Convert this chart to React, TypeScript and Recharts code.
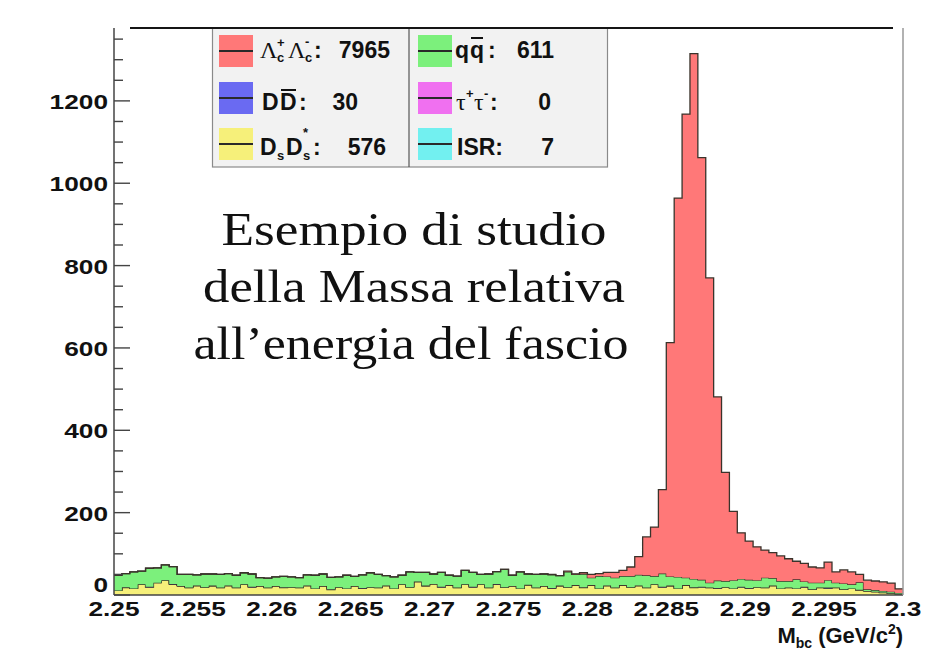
import { ComposedChart, Area, XAxis, YAxis } from "recharts";

// histogram binning: 100 bins of 0.5 MeV between 2.25 and 2.3 GeV/c^2
const BIN_LO = 2.25;
const BIN_W = 0.0005;
const N_BINS = 100;

const xTicks = [2.25, 2.255, 2.26, 2.265, 2.27, 2.275, 2.28, 2.285, 2.29, 2.295, 2.3];
const xTickLabels = ["2.25", "2.255", "2.26", "2.265", "2.27", "2.275", "2.28", "2.285", "2.29", "2.295", "2.3"];
const yTicks = [0, 50, 100, 150, 200, 250, 300, 350, 400, 450, 500, 550, 600, 650, 700, 750, 800, 850, 900, 950, 1000, 1050, 1100, 1150, 1200, 1250, 1300, 1350];

// D_s D_s* (yellow, bottom of the stack)
const dsds = [
  11, 18, 16, 26, 19, 30, 36, 26, 22, 18, 22, 19, 22, 18, 22, 18, 26, 19, 22, 18, 22, 18, 19, 18, 22,
  16, 22, 13, 19, 16, 22, 16, 19, 18, 22, 16, 26, 19, 32, 22, 27, 19, 24, 18, 26, 19, 26, 18, 26, 19,
  22, 16, 24, 18, 22, 16, 22, 19, 24, 18, 24, 16, 22, 18, 24, 19, 22, 18, 26, 19, 22, 16, 24, 18, 19,
  18, 16, 19, 16, 19, 16, 19, 18, 22, 16, 18, 16, 19, 14, 18, 16, 18, 14, 16, 12, 10, 8, 6, 4, 2,
];

// D Dbar (blue), ISR (cyan): only a handful of entries
const ddbar = [
  0, 1, 0, 0, 1, 0, 0, 1, 0, 0, 1, 0, 0, 0, 1, 0, 0, 1, 0, 0, 0, 1, 0, 0, 1,
  0, 0, 1, 0, 0, 0, 1, 0, 0, 1, 0, 0, 0, 1, 0, 0, 1, 0, 0, 0, 1, 0, 0, 1, 0,
  0, 0, 1, 0, 0, 1, 0, 0, 0, 1, 0, 0, 1, 0, 0, 0, 1, 0, 0, 1, 0, 0, 0, 1, 0,
  0, 1, 0, 0, 0, 1, 0, 0, 1, 0, 0, 0, 1, 0, 0, 1, 0, 0, 0, 1, 0, 0, 0, 0, 0,
];
const isr = [
  0, 0, 0, 0, 0, 0, 0, 0, 0, 0, 0, 0, 1, 0, 0, 0, 0, 0, 0, 0, 0, 0, 0, 0, 0,
  0, 0, 0, 0, 0, 0, 0, 0, 0, 0, 0, 0, 0, 0, 1, 0, 0, 0, 0, 0, 0, 0, 0, 0, 0,
  0, 0, 0, 0, 0, 0, 1, 0, 0, 0, 0, 0, 0, 0, 0, 0, 0, 0, 0, 0, 1, 0, 0, 0, 1,
  0, 0, 0, 0, 1, 0, 0, 0, 0, 0, 0, 0, 0, 0, 0, 1, 0, 0, 0, 0, 0, 0, 0, 0, 0,
];

// q qbar continuum (green)
const qqbar = [
  37, 33, 40, 32, 45, 36, 37, 42, 28, 32, 26, 32, 28, 32, 29, 30, 28, 31, 20, 23, 22, 26, 25, 24, 26,
  32, 29, 29, 25, 32, 23, 32, 35, 32, 24, 28, 22, 37, 22, 32, 24, 35, 24, 28, 34, 35, 24, 33, 30, 43,
  26, 40, 26, 32, 29, 32, 24, 37, 26, 32, 18, 30, 22, 24, 22, 27, 26, 30, 20, 32, 22, 28, 18, 20, 17,
  12, 18, 15, 20, 19, 20, 17, 24, 18, 18, 16, 22, 13, 16, 12, 18, 12, 14, 10, 18, 4, 4, 4, 4, 3,
];

// Lambda_c+ Lambda_c- signal (red, top of the stack)
const lambdaC = [
  0, 0, 0, 0, 0, 0, 0, 0, 0, 0, 0, 0, 0, 0, 0, 0, 0, 0, 0, 0, 0, 0, 0, 0, 0,
  0, 0, 0, 0, 0, 0, 0, 0, 0, 0, 0, 0, 0, 0, 0, 0, 0, 0, 0, 0, 0, 0, 0, 0, 0,
  0, 0, 0, 0, 0, 1, 0, 2, 1, 3, 8, 6, 10, 13, 14, 22, 44, 93, 119, 204, 568, 920, 1126, 1276, 1025,
  740, 446, 264, 167, 112, 94, 81, 67, 62, 61, 54, 44, 44, 38, 36, 44, 26, 33, 30, 19, 22, 22, 22, 21, 10,
];

const rows = Array.from({ length: N_BINS + 1 }, (_, i) => {
  const k = Math.min(i, N_BINS - 1);
  return {
    x: +(BIN_LO + i * BIN_W).toFixed(4),
    ds: dsds[k],
    dd: ddbar[k],
    isr: isr[k],
    qq: qqbar[k],
    lc: lambdaC[k],
  };
});

const SANS = '"Liberation Sans", Arial, sans-serif';
const SERIF = '"Liberation Serif", "Times New Roman", serif';
const EDGE = "#3a332b";

function YTick(props: any) {
  const { x, y, payload } = props;
  const v = payload.value;
  const major = v % 200 === 0;
  // the "0" sits a little higher so it clears the 2.25 label
  const dy = v === 0 ? -3 : 8;
  return (
    <g>
      <line x1={x} x2={x + (major ? 16 : 9)} y1={y} y2={y} stroke="#444" strokeWidth={1.4} />
      {major && (
        <text
          transform={`translate(${x - 6},${y + dy}) scale(1.25,1)`}
          textAnchor="end"
          fontFamily={SANS}
          fontWeight="bold"
          fontSize={21}
          fill="#111"
        >
          {v}
        </text>
      )}
    </g>
  );
}

function XTick(props: any) {
  const { x, y, index } = props;
  return (
    <text
      transform={`translate(${x},${y + 21}) scale(1.25,1)`}
      textAnchor="middle"
      fontFamily={SANS}
      fontWeight="bold"
      fontSize={21}
      fill="#111"
    >
      {xTickLabels[index]}
    </text>
  );
}

function Swatch({ x, y, fill }: { x: number; y: number; fill: string }) {
  return (
    <g>
      <rect x={x} y={y} width={34} height={32} fill={fill} />
      <line x1={x} x2={x + 34} y1={y + 16} y2={y + 16} stroke="#2a2a2a" strokeWidth={2} />
    </g>
  );
}

function Overlay() {
  const b = { fontFamily: SANS, fontWeight: "bold" as const, fontSize: 23, fill: "#111" };
  const small = { fontFamily: SANS, fontWeight: "bold" as const, fontSize: 13, fill: "#111" };
  return (
    <svg width={942} height={655} style={{ position: "absolute", left: 0, top: 0, pointerEvents: "none" }}>
      {/* frame */}
      <line x1={903} x2={903} y1={28} y2={595} stroke="#999" strokeWidth={1.5} />

      {/* legend */}
      <rect x={212.5} y={28} width={395} height={139} fill="#f2f2f2" stroke="#8a8a8a" strokeWidth={1.2} />
      <line x1={409} x2={409} y1={28} y2={167} stroke="#555" strokeWidth={1.2} />
      <line x1={130} x2={893} y1={28} y2={28} stroke="#151515" strokeWidth={2.2} />

      <Swatch x={219} y={35} fill="#ff7878" />
      <Swatch x={219} y={82} fill="#6a6af2" />
      <Swatch x={219} y={128} fill="#f6f07a" />
      <Swatch x={418} y={35} fill="#7cf07c" />
      <Swatch x={418} y={82} fill="#f070f0" />
      <Swatch x={418} y={128} fill="#72f0f0" />

      {/* Λc+ Λc- */}
      <text x={260} y={58} fontFamily={SERIF} fontSize={24} fill="#111">Λ</text>
      <text x={277} y={47} {...small}>+</text>
      <text x={277} y={62} {...small}>c</text>
      <text x={288} y={58} fontFamily={SERIF} fontSize={24} fill="#111">Λ</text>
      <text x={305} y={46} {...small}>-</text>
      <text x={305} y={62} {...small}>c</text>
      <text x={314} y={58} {...b}>:</text>
      <text x={390} y={58} textAnchor="end" {...b}>7965</text>

      {/* D Dbar */}
      <text x={262} y={110} {...b}>D</text>
      <text x={280} y={110} {...b}>D</text>
      <line x1={281} x2={296} y1={90} y2={90} stroke="#111" strokeWidth={2} />
      <text x={299} y={110} {...b}>:</text>
      <text x={358} y={110} textAnchor="end" {...b}>30</text>

      {/* Ds Ds* */}
      <text x={260} y={155} {...b}>D</text>
      <text x={277} y={160} {...small}>s</text>
      <text x={286} y={155} {...b}>D</text>
      <text x={303} y={137} {...small}>*</text>
      <text x={303} y={160} {...small}>s</text>
      <text x={313} y={155} {...b}>:</text>
      <text x={386} y={155} textAnchor="end" {...b}>576</text>

      {/* q qbar */}
      <text x={455} y={58} {...b}>q</text>
      <text x={470} y={58} {...b}>q</text>
      <line x1={471} x2={483} y1={38} y2={38} stroke="#111" strokeWidth={2} />
      <text x={488} y={58} {...b}>:</text>
      <text x={554} y={58} textAnchor="end" {...b}>611</text>

      {/* tau+ tau- */}
      <text x={456} y={110} fontFamily={SERIF} fontSize={24} fill="#111">τ</text>
      <text x={466} y={98} {...small}>+</text>
      <text x={474} y={110} fontFamily={SERIF} fontSize={24} fill="#111">τ</text>
      <text x={484} y={98} {...small}>-</text>
      <text x={490} y={110} {...b}>:</text>
      <text x={551} y={110} textAnchor="end" {...b}>0</text>

      {/* ISR */}
      <text x={457} y={155} {...b}>ISR:</text>
      <text x={554} y={155} textAnchor="end" {...b}>7</text>

      {/* annotation */}
      <text x={414} y={245} textAnchor="middle" fontFamily={SERIF} fontSize={46} fill="#111" textLength={385} lengthAdjust="spacingAndGlyphs">
        Esempio di studio
      </text>
      <text x={414} y={302} textAnchor="middle" fontFamily={SERIF} fontSize={46} fill="#111" textLength={422} lengthAdjust="spacingAndGlyphs">
        della Massa relativa
      </text>
      <text x={411} y={359} textAnchor="middle" fontFamily={SERIF} fontSize={46} fill="#111" textLength={435} lengthAdjust="spacingAndGlyphs">
        all’energia del fascio
      </text>

      {/* x axis title */}
      <text x={903} y={643} textAnchor="end" fontFamily={SANS} fontWeight="bold" fontSize={22} fill="#111">
        M<tspan fontSize={14} dy={5}>bc</tspan>
        <tspan dy={-5}> (GeV/c</tspan>
        <tspan fontSize={14} dy={-9}>2</tspan>
        <tspan dy={9}>)</tspan>
      </text>
    </svg>
  );
}

export default function App() {
  return (
    <div style={{ position: "absolute", left: 0, top: 0, width: 942, height: 655, background: "#fff" }}>
      <ComposedChart width={942} height={655} data={rows} margin={{ top: 28, right: 39, bottom: 0, left: 0 }}>
        <XAxis
          dataKey="x"
          type="number"
          domain={[2.25, 2.3]}
          ticks={xTicks}
          interval={0}
          height={60}
          tickSize={0}
          tickMargin={0}
          tick={<XTick />}
          axisLine={{ stroke: "#444", strokeWidth: 1.5 }}
          allowDataOverflow
        />
        <YAxis
          type="number"
          domain={[0, 1377]}
          ticks={yTicks}
          interval={0}
          width={114}
          tickSize={0}
          tickMargin={0}
          tick={<YTick />}
          axisLine={{ stroke: "#444", strokeWidth: 1.5 }}
          allowDataOverflow
        />
        <Area type="stepAfter" dataKey="ds" name="DsDs*" stackId="mbc" fill="#f6f07a" fillOpacity={1} stroke={EDGE} strokeWidth={1.3} isAnimationActive={false} dot={false} activeDot={false} />
        <Area type="stepAfter" dataKey="dd" name="DDbar" stackId="mbc" fill="#6a6af2" fillOpacity={1} stroke={EDGE} strokeWidth={1} isAnimationActive={false} dot={false} activeDot={false} />
        <Area type="stepAfter" dataKey="isr" name="ISR" stackId="mbc" fill="#72f0f0" fillOpacity={1} stroke={EDGE} strokeWidth={1} isAnimationActive={false} dot={false} activeDot={false} />
        <Area type="stepAfter" dataKey="qq" name="qqbar" stackId="mbc" fill="#7cf07c" fillOpacity={1} stroke={EDGE} strokeWidth={1.3} isAnimationActive={false} dot={false} activeDot={false} />
        <Area type="stepAfter" dataKey="lc" name="LcLc" stackId="mbc" fill="#ff7878" fillOpacity={1} stroke={EDGE} strokeWidth={1.3} isAnimationActive={false} dot={false} activeDot={false} />
      </ComposedChart>
      <Overlay />
    </div>
  );
}
